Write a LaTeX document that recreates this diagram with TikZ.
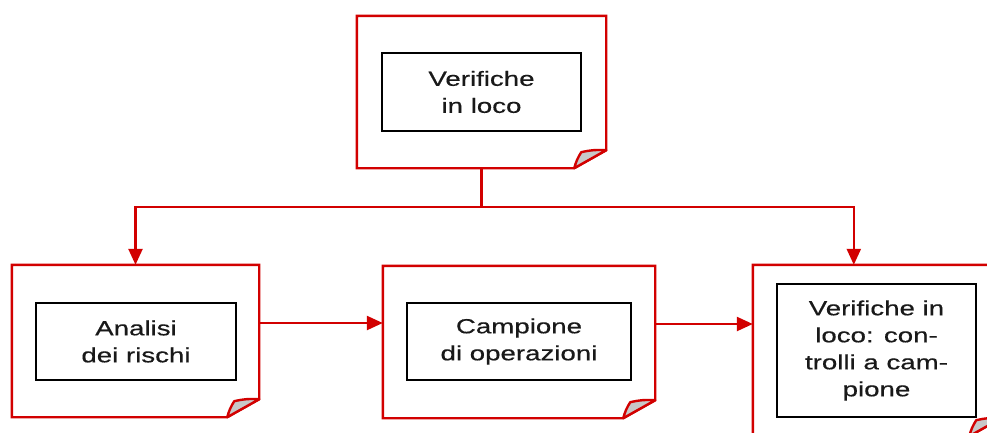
\documentclass[tikz,border=0pt]{standalone}
\usepackage{fontspec}
\usetikzlibrary{arrows.meta,calc}
\newfontfamily\widesans[FakeStretch=1.35,FakeBold=0.4]{Liberation Sans}
\definecolor{notered}{RGB}{210,0,0}
\definecolor{flapgray}{RGB}{200,200,200}
\definecolor{txt}{RGB}{25,25,25}
\newcommand\foldnote[1]{%
  \draw[noteline, fill=white] (#1.north west) -- (#1.north east)
     -- ([shift={(0,-18)}]#1.south east) -- ([shift={(-32,0)}]#1.south east)
     -- (#1.south west) -- cycle;
  \draw[noteline, fill=flapgray, line join=round] ([shift={(-32,0)}]#1.south east)
     to[bend left=8] ([shift={(-25,-16)}]#1.south east)
     to[bend left=8] ([shift={(0,-18)}]#1.south east) -- cycle;
}
\tikzset{
  noteline/.style={draw=notered, line width=2.4pt},
  notearea/.style={draw=none, inner sep=0pt},
  innerbox/.style={draw=black, line width=2.8pt, fill=white, align=center,
    inner sep=0pt, text=txt, font=\widesans\fontsize{20.5}{27}\selectfont},
  conn/.style={draw=notered, line width=2.4pt, -{Triangle[length=16pt,width=14pt]}}
}
\begin{document}
\begin{tikzpicture}[x=1pt,y=-1pt]
\clip (0,0) rectangle (987,432);
\fill[white] (0,0) rectangle (987,432);
% note areas
\node[notearea, minimum width=249pt, minimum height=152pt] (T) at (481.5,92) {};
\node[notearea, minimum width=247pt, minimum height=152pt] (L) at (135.5,341) {};
\node[notearea, minimum width=272pt, minimum height=152pt] (M) at (519,342) {};
\node[notearea, minimum width=248pt, minimum height=171pt] (R) at (877,350.5) {};
\foldnote{T}
\foldnote{L}
\foldnote{M}
\foldnote{R}
% inner boxes
\node[innerbox, minimum width=199pt, minimum height=78pt] (Ti) at (481.5,92) {Verifiche\\in loco};
\node[innerbox, minimum width=200pt, minimum height=77pt] (Li) at (136,341.5) {Analisi\\dei rischi};
\node[innerbox, minimum width=224pt, minimum height=77pt] (Mi) at (519,341.5) {Campione\\di operazioni};
\node[innerbox, minimum width=199pt, minimum height=133pt] (Ri) at (876.5,350.5) {Verifiche in\\loco: con-\\trolli a cam-\\pione};
% connectors
\draw[conn] (T.south) -- ++(0,39) -| (L.north);
\draw[conn] (T.south) -- ++(0,39) -| ([xshift=101pt]R.north west);
\draw[conn] ([yshift=18pt]L.east) -- ([yshift=18pt]L.east -| M.west);
\draw[conn] ([yshift=18pt]M.east) -- ([yshift=18pt]M.east -| R.west);
\end{tikzpicture}
\end{document}
